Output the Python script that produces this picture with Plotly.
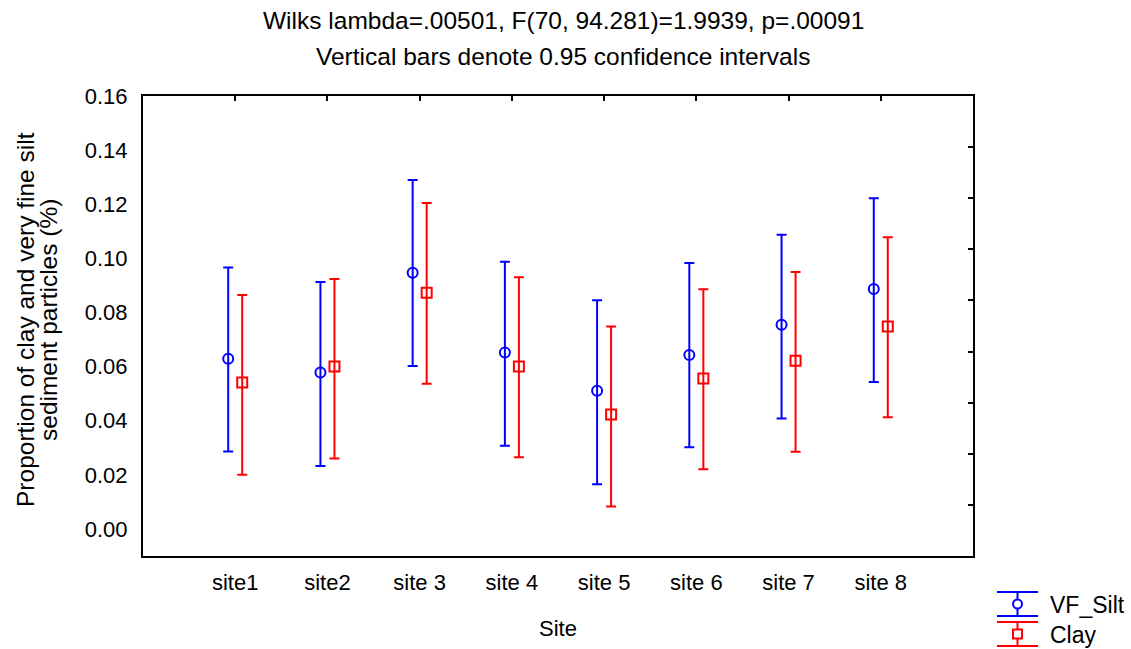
import plotly.graph_objects as go

# Site means and 0.95 confidence limits for each fraction
sites = ["site1", "site2", "site 3", "site 4", "site 5", "site 6", "site 7", "site 8"]

vf_silt_mean = [0.0629, 0.0578, 0.0947, 0.0652, 0.0511, 0.0643, 0.0755, 0.0887]
vf_silt_low = [0.0286, 0.0233, 0.0602, 0.0307, 0.0165, 0.0302, 0.0408, 0.0543]
vf_silt_high = [0.0966, 0.0913, 0.1290, 0.0987, 0.0845, 0.0983, 0.1087, 0.1222]

clay_mean = [0.0541, 0.0600, 0.0873, 0.0600, 0.0423, 0.0556, 0.0622, 0.0748]
clay_low = [0.0200, 0.0260, 0.0537, 0.0265, 0.0083, 0.0221, 0.0285, 0.0413]
clay_high = [0.0865, 0.0924, 0.1205, 0.0930, 0.0748, 0.0886, 0.0950, 0.1078]

y_ticks = [0.00, 0.02, 0.04, 0.06, 0.08, 0.10, 0.12, 0.14, 0.16]

W, H = 1131, 649
L, R, T, B = 143, 973, 96, 556
FONT = "Liberation Sans, Arial, sans-serif"
FS_TICK = 22
FS_TITLE = 24.5
FS_LEGEND = 23
BLUE = "#0000ff"
RED = "#ff0000"
OFFSET = 0.076

pos = list(range(1, len(sites) + 1))


def px(x):
    return (x - L) / (R - L)


def py(y):
    return (B - y) / (B - T)


def ci_trace(name, mean, low, high, color, symbol, shift):
    return go.Scatter(
        x=[p + shift for p in pos],
        y=mean,
        mode="markers",
        name=name,
        marker=dict(symbol=symbol, size=10, color=color, line=dict(color=color, width=2)),
        error_y=dict(
            type="data",
            symmetric=False,
            array=[h - m for h, m in zip(high, mean)],
            arrayminus=[m - lo for m, lo in zip(mean, low)],
            color=color,
            thickness=2,
            width=5,
        ),
        showlegend=False,
    )


fig = go.Figure()
fig.add_trace(ci_trace("VF_Silt", vf_silt_mean, vf_silt_low, vf_silt_high, BLUE, "circle-open", -OFFSET))
fig.add_trace(ci_trace("Clay", clay_mean, clay_low, clay_high, RED, "square-open", OFFSET))

# invisible trace that carries the top and right tick axes
fig.add_trace(go.Scatter(x=[0], y=[0], xaxis="x2", yaxis="y2", mode="markers",
                         marker=dict(opacity=0), showlegend=False, hoverinfo="skip"))

fig.update_layout(
    width=W,
    height=H,
    margin=dict(l=L, r=W - R, t=T, b=H - B),
    paper_bgcolor="white",
    plot_bgcolor="white",
    font=dict(family=FONT, size=FS_TICK, color="black"),
    showlegend=False,
    xaxis=dict(
        range=[0, len(sites) + 1],
        tickvals=pos,
        ticktext=sites,
        ticks="",
        showgrid=False,
        zeroline=False,
        showline=True,
        linecolor="black",
        linewidth=2,
        mirror=True,
        ticklabelstandoff=6,
        tickfont=dict(size=FS_TICK),
    ),
    yaxis=dict(
        range=[-0.01, 0.16],
        tickvals=y_ticks,
        ticktext=[f"{v:.2f}" for v in y_ticks],
        ticks="",
        showgrid=False,
        zeroline=False,
        showline=True,
        linecolor="black",
        linewidth=2,
        mirror=True,
        ticklabelstandoff=9,
        tickfont=dict(size=FS_TICK),
    ),
    xaxis2=dict(
        overlaying="x",
        side="top",
        range=[0, len(sites) + 1],
        tickvals=pos,
        ticks="inside",
        ticklen=5,
        tickwidth=2,
        tickcolor="black",
        showticklabels=False,
        showgrid=False,
        zeroline=False,
        showline=False,
    ),
    yaxis2=dict(
        overlaying="y",
        side="right",
        range=[0, 9],
        dtick=1,
        ticks="inside",
        ticklen=5,
        tickwidth=2,
        tickcolor="black",
        showticklabels=False,
        showgrid=False,
        zeroline=False,
        showline=False,
    ),
)

# titles and legend labels
annotations = [
    dict(text="Wilks lambda=.00501, F(70, 94.281)=1.9939, p=.00091", x=px(563), y=py(20), size=FS_TITLE),
    dict(text="Vertical bars denote 0.95 confidence intervals", x=px(563), y=py(57), size=FS_TITLE),
    dict(text="Site", x=px(558), y=py(628), size=FS_TICK),
    dict(text="Proportion of clay and very fine silt", x=px(25), y=py(320), textangle=-90, size=FS_TITLE),
    dict(text="sediment particles (%)", x=px(48), y=py(320), textangle=-90, size=FS_TITLE),
    dict(text="VF_Silt", x=px(1048), y=py(605), xanchor="left", size=FS_LEGEND),
    dict(text="Clay", x=px(1048), y=py(635), xanchor="left", size=FS_LEGEND),
]
for a in annotations:
    a.setdefault("xanchor", "center")
    size = a.pop("size")
    fig.add_annotation(xref="paper", yref="paper", yanchor="middle", showarrow=False,
                       font=dict(family=FONT, size=size, color="black"), **a)


# legend glyphs drawn as small error-bar symbols
def legend_glyph(color, yc, shape):
    x0, x1, xc = 997, 1038, 1017.5
    ytop, ybot = yc - 12, yc + 12
    lw = dict(color=color, width=2)
    fig.add_shape(type="line", xref="paper", yref="paper", x0=px(x0), x1=px(x1), y0=py(ytop), y1=py(ytop), line=lw)
    fig.add_shape(type="line", xref="paper", yref="paper", x0=px(x0), x1=px(x1), y0=py(ybot), y1=py(ybot), line=lw)
    fig.add_shape(type="line", xref="paper", yref="paper", x0=px(xc), x1=px(xc), y0=py(ytop), y1=py(ybot), line=lw)
    fig.add_shape(type=shape, xref="paper", yref="paper", x0=px(xc - 4.5), x1=px(xc + 4.5),
                  y0=py(yc - 4.5), y1=py(yc + 4.5), line=lw, fillcolor="white")


legend_glyph(BLUE, 604, "circle")
legend_glyph(RED, 634, "rect")

fig.write_html("out.html")
